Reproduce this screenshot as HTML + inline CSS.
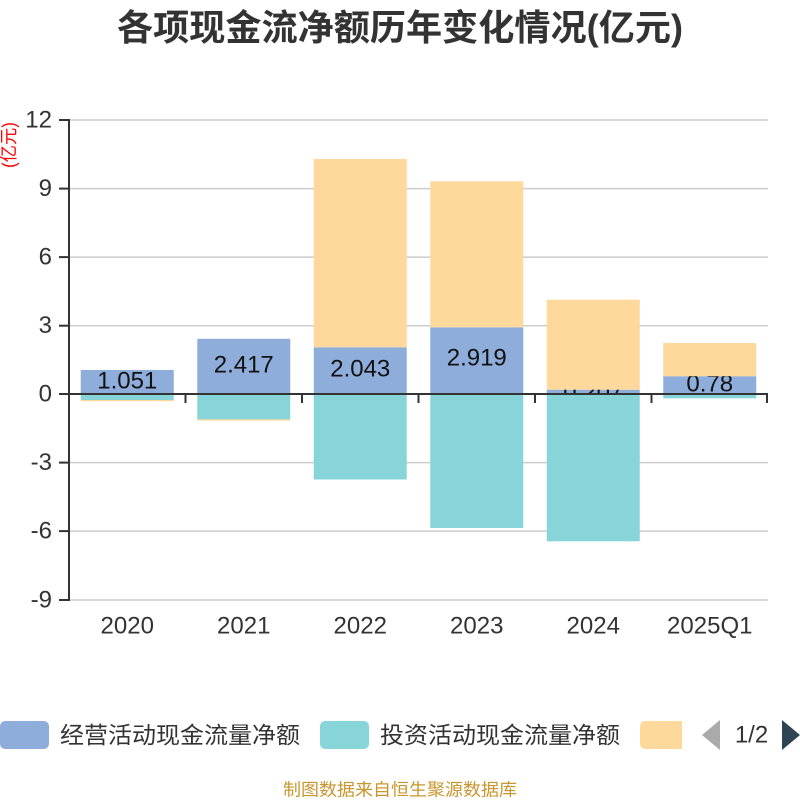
<!DOCTYPE html>
<html>
<head>
<meta charset="utf-8">
<style>
  html,body{margin:0;padding:0;background:#fff;}
  svg{display:block;}
  text{font-family:"Liberation Sans","Noto Sans CJK SC",sans-serif;}
</style>
</head>
<body>
<svg width="800" height="800" viewBox="0 0 800 800" xmlns="http://www.w3.org/2000/svg">
  <defs>
    <clipPath id="lgclip"><rect x="630" y="710" width="52" height="50"/></clipPath>
  </defs>
  <!-- Title -->
  <text x="400" y="40" text-anchor="middle" font-size="36" font-weight="bold" fill="#333" textLength="566" lengthAdjust="spacingAndGlyphs">各项现金流净额历年变化情况(亿元)</text>

  <!-- y unit label -->
  <text transform="translate(9,145) rotate(-90)" text-anchor="middle" dominant-baseline="central" font-size="18" fill="#ff0000" textLength="46" lengthAdjust="spacingAndGlyphs">(亿元)</text>

  <!-- grid lines -->
  <g stroke="#cccccc" stroke-width="1.5">
    <line x1="69" y1="120" x2="768" y2="120"/>
    <line x1="69" y1="188.6" x2="768" y2="188.6"/>
    <line x1="69" y1="257.1" x2="768" y2="257.1"/>
    <line x1="69" y1="325.7" x2="768" y2="325.7"/>
    <line x1="69" y1="462.6" x2="768" y2="462.6"/>
    <line x1="69" y1="531.1" x2="768" y2="531.1"/>
    <line x1="69" y1="600" x2="768" y2="600"/>
  </g>

  <!-- y tick labels -->
  <g font-size="24" fill="#333" text-anchor="end" dominant-baseline="central">
    <text x="52" y="120">12</text>
    <text x="52" y="188.6">9</text>
    <text x="52" y="257.1">6</text>
    <text x="52" y="325.7">3</text>
    <text x="52" y="394">0</text>
    <text x="52" y="462.6">-3</text>
    <text x="52" y="531.1">-6</text>
    <text x="52" y="600">-9</text>
  </g>

  <!-- Blue bars (operating) -->
  <g fill="#8eaddb">
    <rect x="80.75" y="370" width="93" height="24"/>
    <rect x="197.25" y="338.8" width="93" height="55.2"/>
    <rect x="313.75" y="347.3" width="93" height="46.7"/>
    <rect x="430.25" y="327.3" width="93" height="66.7"/>
    <rect x="546.75" y="389.7" width="93" height="4.3"/>
    <rect x="663.25" y="376.2" width="93" height="17.8"/>
  </g>
  <!-- Blue labels -->
  <g font-size="24" fill="#111" text-anchor="middle" dominant-baseline="central">
    <text x="127.25" y="381">1.051</text>
    <text x="243.75" y="365">2.417</text>
    <text x="360.25" y="369">2.043</text>
    <text x="476.75" y="358">2.919</text>
    <text x="593.25" y="392">0.207</text>
    <text x="709.75" y="384">0.78</text>
  </g>

  <!-- Teal bars (investing) -->
  <g fill="#87d5d8">
    <rect x="80.75" y="394" width="93" height="6"/>
    <rect x="197.25" y="394" width="93" height="25.4"/>
    <rect x="313.75" y="394" width="93" height="85.5"/>
    <rect x="430.25" y="394" width="93" height="134"/>
    <rect x="546.75" y="394" width="93" height="147.3"/>
    <rect x="663.25" y="394" width="93" height="4.3"/>
  </g>

  <!-- Orange bars (financing) -->
  <g fill="#fed99b">
    <rect x="80.75" y="400" width="93" height="1.2"/>
    <rect x="197.25" y="419.4" width="93" height="1.2"/>
    <rect x="313.75" y="159" width="93" height="188.3"/>
    <rect x="430.25" y="181.3" width="93" height="146"/>
    <rect x="546.75" y="299.7" width="93" height="90"/>
    <rect x="663.25" y="343" width="93" height="33.2"/>
  </g>

  <!-- Axes -->
  <g stroke="#333" stroke-width="2">
    <line x1="69" y1="119" x2="69" y2="601"/>
    <line x1="69" y1="394" x2="768" y2="394"/>
    <!-- y ticks -->
    <line x1="59" y1="120" x2="69" y2="120"/>
    <line x1="59" y1="188.6" x2="69" y2="188.6"/>
    <line x1="59" y1="257.1" x2="69" y2="257.1"/>
    <line x1="59" y1="325.7" x2="69" y2="325.7"/>
    <line x1="59" y1="394" x2="69" y2="394"/>
    <line x1="59" y1="462.6" x2="69" y2="462.6"/>
    <line x1="59" y1="531.1" x2="69" y2="531.1"/>
    <line x1="59" y1="600" x2="69" y2="600"/>
    <!-- x ticks -->
    <line x1="185.5" y1="394" x2="185.5" y2="403"/>
    <line x1="302" y1="394" x2="302" y2="403"/>
    <line x1="418.5" y1="394" x2="418.5" y2="403"/>
    <line x1="535" y1="394" x2="535" y2="403"/>
    <line x1="651.5" y1="394" x2="651.5" y2="403"/>
    <line x1="767" y1="394" x2="767" y2="403"/>
  </g>

  <!-- x labels -->
  <g font-size="24" fill="#333" text-anchor="middle" dominant-baseline="central">
    <text x="127.25" y="626">2020</text>
    <text x="243.75" y="626">2021</text>
    <text x="360.25" y="626">2022</text>
    <text x="476.75" y="626">2023</text>
    <text x="593.25" y="626">2024</text>
    <text x="709.75" y="626">2025Q1</text>
  </g>

  <!-- Legend -->
  <rect x="0" y="721" width="49" height="28" rx="5" fill="#8eaddb"/>
  <text x="60" y="735" font-size="23" fill="#333" dominant-baseline="central" textLength="240" lengthAdjust="spacingAndGlyphs">经营活动现金流量净额</text>
  <rect x="320" y="721" width="49" height="28" rx="5" fill="#87d5d8"/>
  <text x="380" y="735" font-size="23" fill="#333" dominant-baseline="central" textLength="240" lengthAdjust="spacingAndGlyphs">投资活动现金流量净额</text>
  <rect x="640" y="721" width="55" height="28" rx="5" fill="#fed99b" clip-path="url(#lgclip)"/>
  <polygon points="720,720 720,750 702,735" fill="#aaaaaa"/>
  <text x="751.5" y="735" font-size="24" fill="#333" text-anchor="middle" dominant-baseline="central">1/2</text>
  <polygon points="782,720 782,750 800,735" fill="#2f4554"/>

  <!-- Footer -->
  <text x="400" y="790" font-size="17" fill="#c8962e" text-anchor="middle" dominant-baseline="central" textLength="234" lengthAdjust="spacingAndGlyphs">制图数据来自恒生聚源数据库</text>
</svg>
</body>
</html>
